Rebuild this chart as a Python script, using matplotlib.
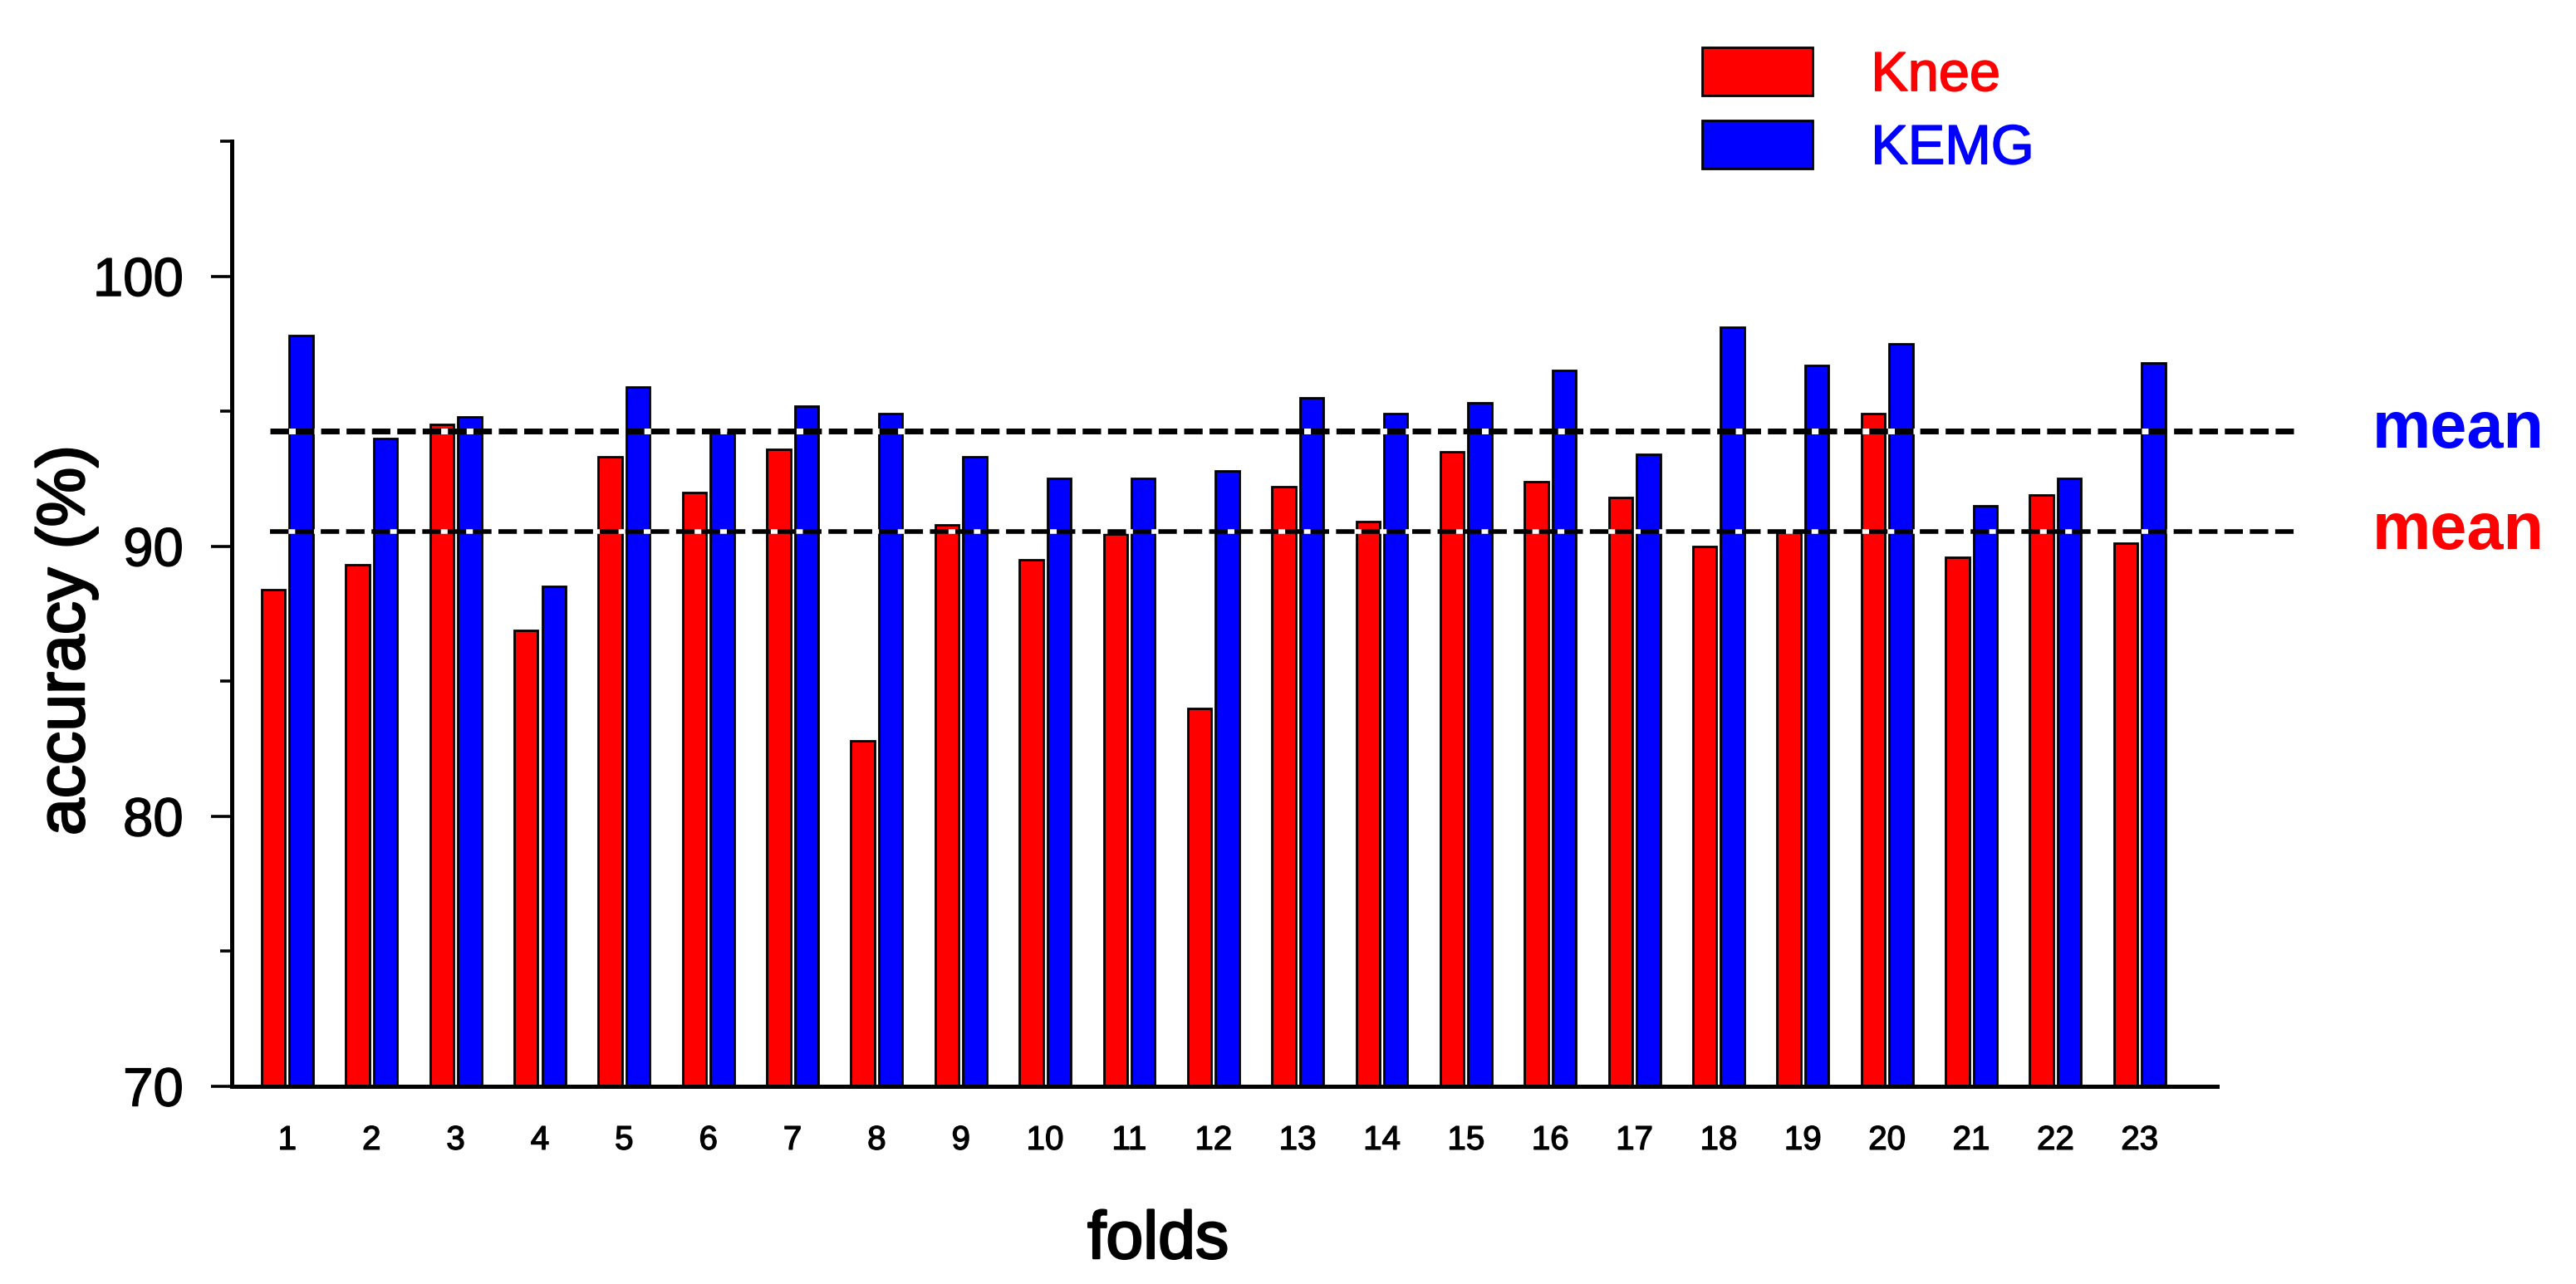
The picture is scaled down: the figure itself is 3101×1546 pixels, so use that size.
import matplotlib
matplotlib.use("Agg")
import matplotlib.pyplot as plt
import matplotlib.patheffects as pe
import numpy as np

plt.rcParams['font.family'] = ['Liberation Sans', 'DejaVu Sans']
plt.rcParams['lines.scale_dashes'] = False

folds = [str(i) for i in range(1, 24)]
knee = [88.4, 89.3, 94.5, 86.9, 93.3, 92.0, 93.6, 82.8, 90.8, 89.5, 90.45, 84.0,
        92.2, 90.9, 93.5, 92.4, 91.8, 90.0, 90.5, 94.9, 89.6, 91.9, 90.1]
kemg = [97.8, 94.0, 94.8, 88.5, 95.9, 94.2, 95.2, 94.9, 93.3, 92.5, 92.5, 92.8,
        95.5, 94.9, 95.3, 96.5, 93.4, 98.1, 96.7, 97.5, 91.5, 92.5, 96.8]
mean_knee = 90.54
mean_kemg = 94.27
series_labels = ['Knee', 'KEMG']
series_colors = ['#ff0000', '#0000ff']

W, H = 3101, 1546
fig = plt.figure(figsize=(W / 100, H / 100), dpi=100)
ax = fig.add_axes([279 / W, 1 - 1308 / H, (2669 - 279) / W, (1308 - 170) / H])

x = np.arange(1, len(folds) + 1)
bw = 0.28
off = 0.165
b1 = ax.bar(x - off, np.array(knee) - 70, bottom=70, width=bw, color=series_colors[0],
            edgecolor='black', linewidth=2.0, label=series_labels[0], zorder=2)
b2 = ax.bar(x + off, np.array(kemg) - 70, bottom=70, width=bw, color=series_colors[1],
            edgecolor='black', linewidth=2.0, label=series_labels[1], zorder=2)

x0, x1 = 0.79, 24.83
ax.plot([x0, x1], [mean_kemg, mean_kemg], color='black', lw=5.0, dashes=(16, 6),
        gapcolor='white', clip_on=False, zorder=3)
ax.plot([x0, x1], [mean_knee, mean_knee], color='black', lw=4.0, dashes=(16, 6),
        gapcolor='white', clip_on=False, zorder=3)

ax.text(25.76, mean_kemg, 'mean', color=series_colors[1], fontsize=57, fontweight='bold',
        ha='left', va='center', clip_on=False)
ax.text(25.76, mean_knee, 'mean', color=series_colors[0], fontsize=57, fontweight='bold',
        ha='left', va='center', clip_on=False)

ax.set_xlim(0.34, 23.92)
ax.set_ylim(70, 105)
for s in ['top', 'right']:
    ax.spines[s].set_visible(False)
ax.spines['left'].set_linewidth(3.6)
ax.spines['bottom'].set_linewidth(3.6)

ax.set_xticks(x)
ax.set_xticklabels(folds, fontsize=29)
ax.tick_params(axis='x', length=0, pad=33)
ax.set_yticks([70, 80, 90, 100])
ax.set_yticks([75, 85, 95, 105], minor=True)
ax.tick_params(axis='y', which='major', length=18, width=2.6, labelsize=47, pad=24)
ax.tick_params(axis='y', which='minor', length=10, width=2.6)
for lbl in ax.get_yticklabels() + ax.get_xticklabels():
    lbl.set_path_effects([pe.withStroke(linewidth=1.0, foreground='black')])

thick = [pe.withStroke(linewidth=1.8, foreground='black')]
fig.text(80 / W, 1 - 771 / H, 'accuracy (%)', rotation=90, fontsize=58,
         ha='center', va='center', path_effects=thick)
fig.text(1394 / W, 1 - 1515 / H, 'folds', fontsize=58, ha='center', va='baseline',
         path_effects=thick)

leg = ax.legend(handles=[b1, b2], loc='upper left', bbox_to_anchor=(2049 / W, 1 - 57 / H),
                bbox_transform=fig.transFigure, frameon=False, fontsize=48,
                handlelength=2.0, handleheight=0.97, handletextpad=1.05,
                labelspacing=0.33, borderpad=0, borderaxespad=0,
                labelcolor=series_colors)
for t, c in zip(leg.get_texts(), series_colors):
    t.set_path_effects([pe.withStroke(linewidth=1.2, foreground=c)])

fig.savefig('out.png', dpi=100)
